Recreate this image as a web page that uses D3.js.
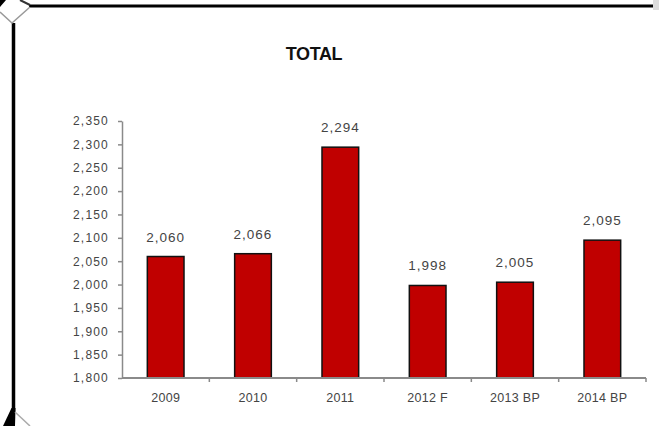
<!DOCTYPE html>
<html>
<head>
<meta charset="utf-8">
<script src="https://cdn.jsdelivr.net/npm/d3@7"></script>
<style>
  html, body { margin: 0; padding: 0; background: #fff; }
  svg { display: block; }
  text { font-family: "Liberation Sans", Arial, sans-serif; }
</style>
</head>
<body>
<svg id="chart" width="659" height="426"></svg>
<script>
const categories = ["2009", "2010", "2011", "2012 F", "2013 BP", "2014 BP"];
const values = [2060, 2066, 2294, 1998, 2005, 2095];
const yTicks = [1800, 1850, 1900, 1950, 2000, 2050, 2100, 2150, 2200, 2250, 2300, 2350];
const title = "TOTAL";

(function () {
const svg = d3.select("#chart");
const pLeft = 122, pRight = 646, pTop = 121, pBottom = 378;
const pad = 0.58;

const x = d3.scaleBand().domain(categories).range([pLeft, pRight])
  .paddingInner(pad).paddingOuter(pad / 2);
const y = d3.scaleLinear().domain([1800, 2350]).range([pBottom, pTop]);
const fmt = d3.format(",");

// frame
svg.append("line").attr("x1", 29).attr("x2", 653).attr("y1", 6).attr("y2", 6)
  .attr("stroke", "#000").attr("stroke-width", 3);
svg.append("rect").attr("x", 653).attr("y", 0).attr("width", 6).attr("height", 10).attr("fill", "#ddd");
svg.append("line").attr("x1", 13.5).attr("x2", 13.5).attr("y1", 23).attr("y2", 412)
  .attr("stroke", "#000").attr("stroke-width", 3.5);
svg.append("path").attr("d", "M0,12 L12,23 L30,7").attr("fill", "none").attr("stroke", "#999").attr("stroke-width", 1.5);
svg.append("path").attr("d", "M20,0 L30,5").attr("fill", "none").attr("stroke", "#333").attr("stroke-width", 2);
svg.append("path").attr("d", "M0,0 L6,0 L0,7 Z").attr("fill", "#000");
svg.append("path").attr("d", "M11.5,408 L15.5,408 L15,426 L3,426 Z").attr("fill", "#000");
svg.append("path").attr("d", "M15,412 L30,426").attr("stroke", "#aaa").attr("stroke-width", 1.5);

// title
svg.append("text").attr("x", 314).attr("y", 60).attr("text-anchor", "middle")
  .attr("font-size", 18).attr("font-weight", "bold").attr("letter-spacing", -0.4)
  .attr("fill", "#111").text(title);

// y axis
const yAxis = svg.append("g").attr("transform", `translate(${pLeft},0)`)
  .call(d3.axisLeft(y).tickValues(yTicks).tickFormat(fmt).tickSize(4).tickSizeOuter(0));
yAxis.select(".domain").attr("stroke", "#8a8a8a").attr("stroke-width", 1.5);
yAxis.selectAll(".tick line").attr("stroke", "#8a8a8a").attr("stroke-width", 1.5);
yAxis.selectAll(".tick text").attr("x", -13).attr("font-size", 12).attr("letter-spacing", 1.2)
  .attr("fill", "#444").attr("font-family", "Liberation Sans, Arial, sans-serif");

// bars
svg.append("g").selectAll("rect").data(values).join("rect")
  .attr("x", (d, i) => x(categories[i]))
  .attr("y", d => y(d))
  .attr("width", x.bandwidth())
  .attr("height", d => y(1800) - y(d))
  .attr("fill", "#c00000").attr("stroke", "#111").attr("stroke-width", 1.5);

// value labels
svg.append("g").selectAll("text").data(values).join("text")
  .attr("x", (d, i) => x(categories[i]) + x.bandwidth() / 2)
  .attr("y", d => y(d) - 15)
  .attr("text-anchor", "middle").attr("font-size", 13.5).attr("letter-spacing", 1)
  .attr("fill", "#444").text(d => fmt(d));

// x axis
svg.append("line").attr("x1", pLeft).attr("x2", pRight).attr("y1", pBottom).attr("y2", pBottom)
  .attr("stroke", "#8a8a8a").attr("stroke-width", 2);
const step = x.step();
svg.append("g").selectAll("line").data(categories).join("line")
  .attr("x1", d => x(d) + x.bandwidth() / 2 + step / 2)
  .attr("x2", d => x(d) + x.bandwidth() / 2 + step / 2)
  .attr("y1", pBottom).attr("y2", pBottom + 4)
  .attr("stroke", "#8a8a8a").attr("stroke-width", 1.5);
svg.append("g").selectAll("text").data(categories).join("text")
  .attr("x", d => x(d) + x.bandwidth() / 2)
  .attr("y", 402)
  .attr("text-anchor", "middle").attr("font-size", 12.5).attr("letter-spacing", 0.3)
  .attr("fill", "#444").text(d => d);
})();
</script>
</body>
</html>
